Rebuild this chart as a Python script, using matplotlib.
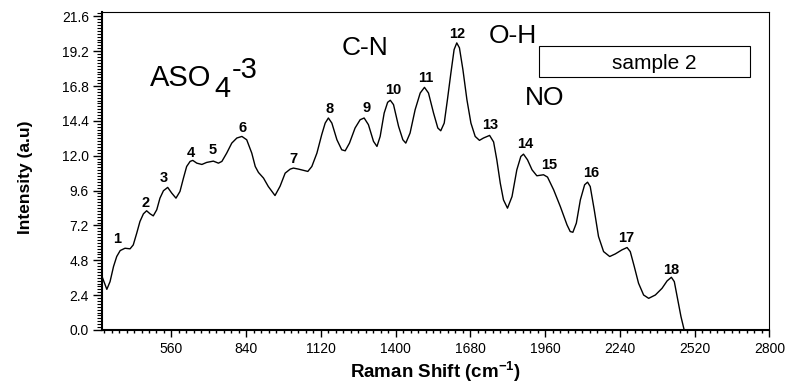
import numpy as np
import matplotlib
matplotlib.use("Agg")
import matplotlib.pyplot as plt
from matplotlib.ticker import MultipleLocator, FormatStrFormatter
from matplotlib.patches import Rectangle

plt.rcParams['font.family'] = ['Liberation Sans', 'DejaVu Sans']
plt.rcParams['mathtext.fontset'] = 'custom'
plt.rcParams['mathtext.rm'] = 'Liberation Sans'
plt.rcParams['mathtext.bf'] = 'Liberation Sans:bold'

# Raman spectrum, sample 2
raman_shift = [
    300, 318, 330, 343, 355, 368, 386, 405, 417, 430, 442, 455, 467, 480, 492,
    505, 517, 530, 546, 561, 577, 592, 605, 617, 630, 640, 655, 674, 692, 717,
    736, 749, 767, 786, 805, 824, 842, 861, 874, 886, 905, 923, 948, 967, 986,
    1005, 1017, 1036, 1055, 1071, 1086, 1105, 1123, 1136, 1148, 1161, 1180, 1198,
    1211, 1227, 1248, 1267, 1282, 1298, 1317, 1330, 1342, 1357, 1370, 1380, 1392,
    1411, 1427, 1438, 1454, 1473, 1492, 1508, 1523, 1542, 1558, 1569, 1582, 1594,
    1607, 1619, 1629, 1639, 1652, 1667, 1682, 1698, 1714, 1729, 1752, 1767, 1779,
    1792, 1804, 1819, 1836, 1854, 1869, 1879, 1894, 1911, 1929, 1954, 1969, 1992,
    2017, 2042, 2054, 2064, 2077, 2092, 2108, 2119, 2129, 2144, 2160, 2179, 2202,
    2223, 2248, 2267, 2279, 2294, 2310, 2329, 2348, 2373, 2398, 2417, 2433, 2444,
    2457, 2469, 2481,
]
intensity = [
    3.68, 2.80, 3.33, 4.37, 5.06, 5.47, 5.63, 5.59, 5.86, 6.67, 7.47, 8.00, 8.21,
    8.00, 7.86, 8.28, 9.08, 9.59, 9.82, 9.43, 9.08, 9.54, 10.46, 11.26, 11.61,
    11.68, 11.49, 11.40, 11.54, 11.63, 11.49, 11.61, 12.18, 12.87, 13.22, 13.33,
    13.10, 12.18, 11.26, 10.85, 10.46, 9.88, 9.26, 9.90, 10.80, 11.08, 11.15,
    11.08, 10.99, 10.92, 11.26, 12.18, 13.45, 14.25, 14.60, 14.25, 13.10, 12.41,
    12.34, 12.87, 13.91, 14.48, 14.60, 14.14, 12.99, 12.64, 13.33, 14.94, 15.68,
    15.82, 15.52, 14.02, 13.10, 12.87, 13.56, 15.17, 16.32, 16.71, 16.32, 14.94,
    13.91, 13.72, 14.25, 15.86, 17.70, 19.31, 19.77, 19.43, 17.93, 15.86, 14.25,
    13.33, 13.06, 13.22, 13.40, 12.95, 11.72, 10.11, 8.96, 8.39, 9.19, 11.03,
    11.95, 12.11, 11.72, 11.03, 10.62, 10.69, 10.53, 9.65, 8.50, 7.24, 6.78, 6.73,
    7.36, 8.96, 10.00, 10.18, 9.88, 8.28, 6.44, 5.40, 5.06, 5.24, 5.52, 5.68,
    5.40, 4.37, 3.22, 2.41, 2.18, 2.41, 2.87, 3.38, 3.63, 3.33, 2.07, 0.92, 0.0,
]

# peak numbers and where their labels sit
peak_labels = [str(i) for i in range(1, 19)]
peak_label_x = [358, 463, 532, 634, 714, 827, 1018, 1151, 1290, 1391, 1511,
                1629, 1754, 1885, 1975, 2131, 2264, 2433]
peak_label_y = [6.0, 8.48, 10.2, 11.93, 12.14, 13.66, 11.52, 14.97, 15.03,
                16.28, 17.1, 20.14, 13.86, 12.55, 11.1, 10.55, 6.07, 3.86]

fig = plt.figure(figsize=(7.91, 3.83), dpi=100)
ax = fig.add_axes([0.129, 0.1384, 0.8436, 0.8303])

ax.plot(raman_shift, intensity, color="black", linewidth=1.0)

ax.set_xlim(300, 2800)
ax.set_ylim(0, 21.9)

ax.xaxis.set_major_locator(MultipleLocator(280))
ax.xaxis.set_minor_locator(MultipleLocator(28))
ax.yaxis.set_major_locator(MultipleLocator(2.4))
ax.yaxis.set_minor_locator(MultipleLocator(0.2))
ax.yaxis.set_major_formatter(FormatStrFormatter("%.1f"))

ax.tick_params(axis="both", which="both", direction="out", top=False, right=False)
ax.tick_params(axis="x", which="major", length=5, width=1.0, labelsize=10, pad=4)
ax.tick_params(axis="x", which="minor", length=2.5, width=1.0)
ax.tick_params(axis="y", which="major", length=6.5, width=1.0, labelsize=10, pad=3)
ax.tick_params(axis="y", which="minor", length=3.5, width=0.8)

for side in ["left", "bottom"]:
    ax.spines[side].set_linewidth(1.5)
for side in ["top", "right"]:
    ax.spines[side].set_linewidth(0.8)

ax.set_xlabel(r"Raman Shift (cm$^\mathbf{-1}$)", fontsize=13.5, fontweight="bold", labelpad=2)
ax.set_ylabel("Intensity (a.u)", fontsize=12.5, fontweight="bold",
              family=["Liberation Sans Narrow", "Liberation Sans"])
ax.yaxis.set_label_coords(-0.103, 0.48)

for lab, lx, ly in zip(peak_labels, peak_label_x, peak_label_y):
    ax.text(lx, ly, lab, ha="center", va="baseline", fontsize=10.5, fontweight="bold")

# group assignments
ax.text(480, 16.83, "ASO", ha="left", va="baseline", fontsize=21)
ax.text(720, 16.07, "4", ha="left", va="baseline", fontsize=21)
ax.text(787, 17.38, "-3", ha="left", va="baseline", fontsize=21)
ax.text(1286, 18.97, "C-N", ha="center", va="baseline", fontsize=19)
ax.text(1840, 19.79, "O-H", ha="center", va="baseline", fontsize=19)
ax.text(1957, 15.52, "NO", ha="center", va="baseline", fontsize=19)

# legend box
ax.add_patch(Rectangle((1938, 17.45), 791, 2.14, fill=False, edgecolor="black", linewidth=0.8))
ax.text(2369, 18.0, "sample 2", ha="center", va="baseline", fontsize=15)

fig.savefig("out.png", dpi=100)
